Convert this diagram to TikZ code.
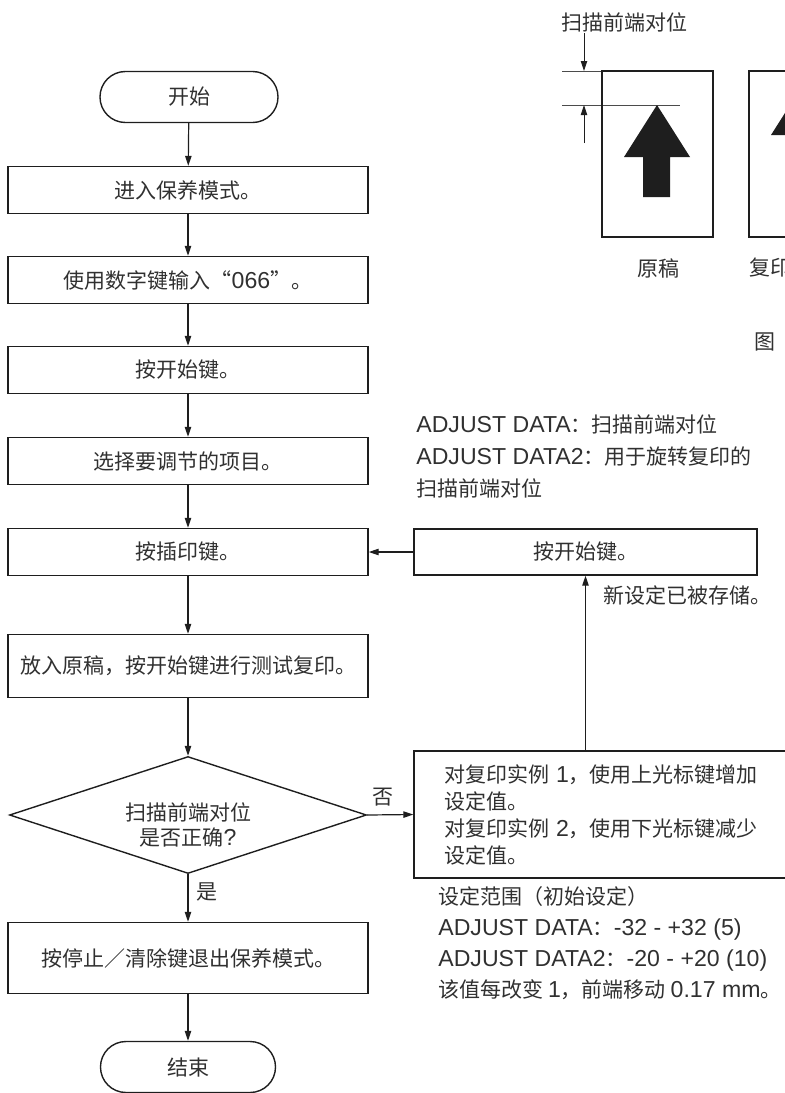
\documentclass[tikz,border=0pt]{standalone}
\usepackage{fontspec}
\setmainfont{Noto Sans CJK SC}
\newfontfamily\latinfont[Scale=1.1]{Liberation Sans}
\newcommand\ltx[1]{{\latinfont #1}}
\usetikzlibrary{shapes.geometric,arrows.meta}
\definecolor{ink}{HTML}{1E1E1E}
\definecolor{txt}{HTML}{303030}
\tikzset{
  procbox/.style={draw=ink,line width=0.7pt,minimum width=180pt,minimum height=23.5pt,inner sep=0pt},
  termbox/.style={draw=ink,line width=0.7pt,rounded corners=12.7pt,minimum width=89pt,minimum height=25.5pt,inner sep=0pt},
  decbox/.style={draw=ink,line width=0.7pt,diamond,aspect=3,minimum width=178.5pt,minimum height=58.5pt,inner sep=0pt,align=center},
  flow/.style={draw=ink,line width=0.6pt,-{Triangle[length=5pt,width=3.2pt]}},
  notetext/.style={align=left,anchor=north west,inner sep=0pt},
  hairline/.style={draw=ink!80,line width=0.45pt}
}
\begin{document}
\begin{tikzpicture}[x=0.5pt,y=-0.5pt,font=\fontsize{10.5}{13.5}\selectfont,text=txt]
\useasboundingbox (0,0) rectangle (785,1093);
% main column
\node[termbox] (start) at (189,97) {开始};
\node[procbox] (enter) at (188,190) {进入保养模式。};
\node[procbox] (code) at (188,280) {使用数字键输入“\ltx{066}”。};
\node[procbox] (startkey) at (188,370) {按开始键。};
\node[procbox] (item) at (188,461) {选择要调节的项目。};
\node[procbox] (interrupt) at (188,552) {按插印键。};
\node[procbox,minimum height=31.5pt] (testcopy) at (188,666) {放入原稿，按开始键进行测试复印。};
\node[decbox,font=\fontsize{10.5}{12.5}\selectfont] (check) at (188,815) {\rule{0pt}{19pt}扫描前端对位\\是否正确\ltx{?}};
\node[procbox,minimum height=35.5pt] (exit) at (188,958) {按停止／清除键退出保养模式。};
\node[termbox,minimum width=87.5pt] (stop) at (188,1067) {结束};
% right column
\node[procbox,minimum width=171.5pt,minimum height=23pt] (restart) at (585.5,552) {按开始键。};
\node[procbox,minimum width=193pt,minimum height=63.5pt,text width=163pt,align=left] (change) at (607,814.5)
  {对复印实例 \ltx{1}，使用上光标键增加\\设定值。\\对复印实例 \ltx{2}，使用下光标键减少\\设定值。};
\node[notetext,font=\fontsize{10.5}{16}\selectfont] (items) at (416,414)
  {\ltx{ADJUST DATA}：扫描前端对位\\\ltx{ADJUST DATA2}：用于旋转复印的\\扫描前端对位};
\node[notetext,font=\fontsize{10.5}{15.5}\selectfont] (range) at (438,886)
  {设定范围（初始设定）\\\ltx{ADJUST DATA}：\ltx{-32 - +32 (5)}\\\ltx{ADJUST DATA2}：\ltx{-20 - +20 (10)}\\该值每改变 \ltx{1}，前端移动 \ltx{0.17 mm}。};
% connectors
\draw[flow] (start) -- (enter);
\draw[flow] (enter) -- (code);
\draw[flow] (code) -- (startkey);
\draw[flow] (startkey) -- (item);
\draw[flow] (item) -- (interrupt);
\draw[flow] (interrupt) -- (testcopy);
\draw[flow] (testcopy) -- (check.north);
\draw[flow] (check.south) -- node[right,pos=0.38,inner sep=4pt]{是} (exit);
\draw[flow] (exit) -- (stop);
\draw[flow] (check.east) -- node[above,pos=0.34,inner sep=4pt]{否} (change.west);
\draw[flow] (change.north -| restart.south) -- node[pos=0.886,right,inner sep=0pt,xshift=8.5pt]{新设定已被存储。} (restart.south);
\draw[flow] (restart.west) -- (interrupt.east);
% scan leading edge figure
\node (scanlbl) at (624,22) {扫描前端对位};
\draw[hairline] (562,71) -- (602,71) (562,105) -- (680,105);
\draw[flow,line width=0.45pt] (584,33) -- (584,71);
\draw[flow,line width=0.45pt] (584,143) -- (584,105);
\foreach \dx/\dy in {0/0,147/-22}{
  \draw[ink,line width=0.6pt] (602+\dx,71) rectangle (713+\dx,237);
  \fill[ink] (657+\dx,105+\dy) -- (690+\dx,157+\dy) -- (670+\dx,157+\dy) -- (670+\dx,197+\dy)
    -- (643+\dx,197+\dy) -- (643+\dx,157+\dy) -- (624+\dx,157+\dy) -- cycle;}
\node (origlbl) at (658,268) {原稿};
\node[anchor=west,inner sep=0pt] (copylbl) at (749,268) {复印};
\node (figlbl) at (765,342) {图};
\end{tikzpicture}
\end{document}
